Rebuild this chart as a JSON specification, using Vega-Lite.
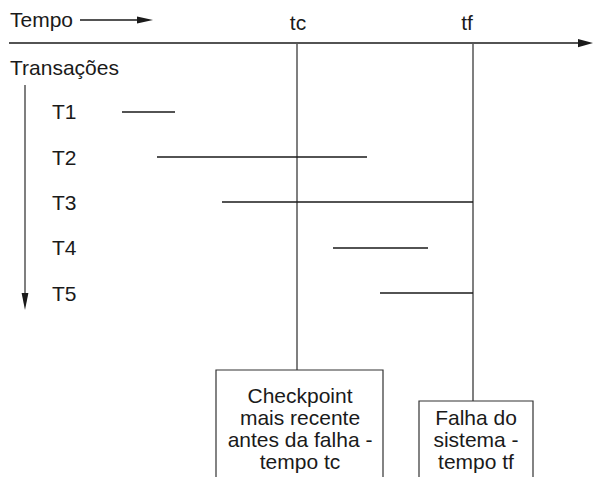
{
  "$schema": "https://vega.github.io/schema/vega-lite/v6.json",
  "width": 594,
  "height": 477,
  "autosize": {"type": "fit", "contains": "padding"},
  "padding": 0,
  "background": "white",
  "config": {"view": {"stroke": null}},
  "layer": [
    {
      "data": {"values": [
        {"x": 9, "y": 43, "x2": 580, "y2": 43, "kind": "axis"},
        {"x": 80, "y": 20, "x2": 140, "y2": 20, "kind": "axis"},
        {"x": 25, "y": 85, "x2": 25, "y2": 296, "kind": "vert"},
        {"x": 297, "y": 43, "x2": 297, "y2": 370, "kind": "vert"},
        {"x": 473, "y": 43, "x2": 473, "y2": 401, "kind": "vert"},
        {"x": 122, "y": 112, "x2": 175, "y2": 112, "kind": "tx"},
        {"x": 157, "y": 157, "x2": 367, "y2": 157, "kind": "tx"},
        {"x": 222, "y": 202, "x2": 473, "y2": 202, "kind": "tx"},
        {"x": 333, "y": 248, "x2": 428, "y2": 248, "kind": "tx"},
        {"x": 380, "y": 293, "x2": 473, "y2": 293, "kind": "tx"}
      ]},
      "mark": {"type": "rule"},
      "encoding": {
        "x": {"field": "x", "type": "quantitative", "scale": {"domain": [0, 594], "nice": false, "zero": false}, "axis": null},
        "y": {"field": "y", "type": "quantitative", "scale": {"domain": [0, 477], "nice": false, "zero": false, "reverse": true}, "axis": null},
        "x2": {"field": "x2"},
        "y2": {"field": "y2"},
        "color": {"field": "kind", "type": "nominal", "scale": {"domain": ["axis", "vert", "tx"], "range": ["#1a1a1a", "#555555", "#1a1a1a"]}, "legend": null},
        "strokeWidth": {"field": "kind", "type": "nominal", "scale": {"domain": ["axis", "vert", "tx"], "range": [1.6, 1.4, 1.1]}, "legend": null}
      }
    },
    {
      "data": {"values": [
        {"x": 585.5, "y": 43, "shape": "M -1 -0.55 L 1 0 L -1 0.55 Z", "s": 225},
        {"x": 145, "y": 20, "shape": "M -1 -0.45 L 1 0 L -1 0.45 Z", "s": 256},
        {"x": 25, "y": 301.5, "shape": "M -0.4 -1 L 0.4 -1 L 0 1 Z", "s": 289}
      ]},
      "mark": {"type": "point", "filled": true, "opacity": 1, "color": "#1a1a1a"},
      "encoding": {
        "x": {"field": "x", "type": "quantitative"},
        "y": {"field": "y", "type": "quantitative"},
        "shape": {"field": "shape", "type": "nominal", "scale": null},
        "size": {"field": "s", "type": "quantitative", "scale": null}
      }
    },
    {
      "data": {"values": [
        {"x": 216, "y": 370, "x2": 383, "y2": 482},
        {"x": 419, "y": 401, "x2": 533, "y2": 482}
      ]},
      "mark": {"type": "rect", "fill": "white", "stroke": "#333333", "strokeWidth": 1.2, "clip": true},
      "encoding": {
        "x": {"field": "x", "type": "quantitative"},
        "y": {"field": "y", "type": "quantitative"},
        "x2": {"field": "x2"},
        "y2": {"field": "y2"}
      }
    },
    {
      "data": {"values": [
        {"x": 10, "y": 27, "t": "Tempo"},
        {"x": 10, "y": 75, "t": "Transações"},
        {"x": 52, "y": 119, "t": "T1"},
        {"x": 52, "y": 165, "t": "T2"},
        {"x": 52, "y": 210, "t": "T3"},
        {"x": 52, "y": 255, "t": "T4"},
        {"x": 52, "y": 301, "t": "T5"}
      ]},
      "mark": {"type": "text", "font": "Liberation Sans", "fontSize": 21, "baseline": "alphabetic", "align": "left", "color": "#1a1a1a"},
      "encoding": {
        "x": {"field": "x", "type": "quantitative"},
        "y": {"field": "y", "type": "quantitative"},
        "text": {"field": "t"}
      }
    },
    {
      "data": {"values": [
        {"x": 298, "y": 30, "t": "tc"},
        {"x": 467, "y": 30, "t": "tf"},
        {"x": 300, "y": 403, "t": "Checkpoint"},
        {"x": 300, "y": 425, "t": "mais recente"},
        {"x": 300, "y": 447, "t": "antes da falha -"},
        {"x": 300, "y": 469, "t": "tempo tc"},
        {"x": 476, "y": 425, "t": "Falha do"},
        {"x": 476, "y": 447, "t": "sistema -"},
        {"x": 476, "y": 469, "t": "tempo tf"}
      ]},
      "mark": {"type": "text", "font": "Liberation Sans", "fontSize": 21, "baseline": "alphabetic", "align": "center", "color": "#1a1a1a"},
      "encoding": {
        "x": {"field": "x", "type": "quantitative"},
        "y": {"field": "y", "type": "quantitative"},
        "text": {"field": "t"}
      }
    }
  ]
}
